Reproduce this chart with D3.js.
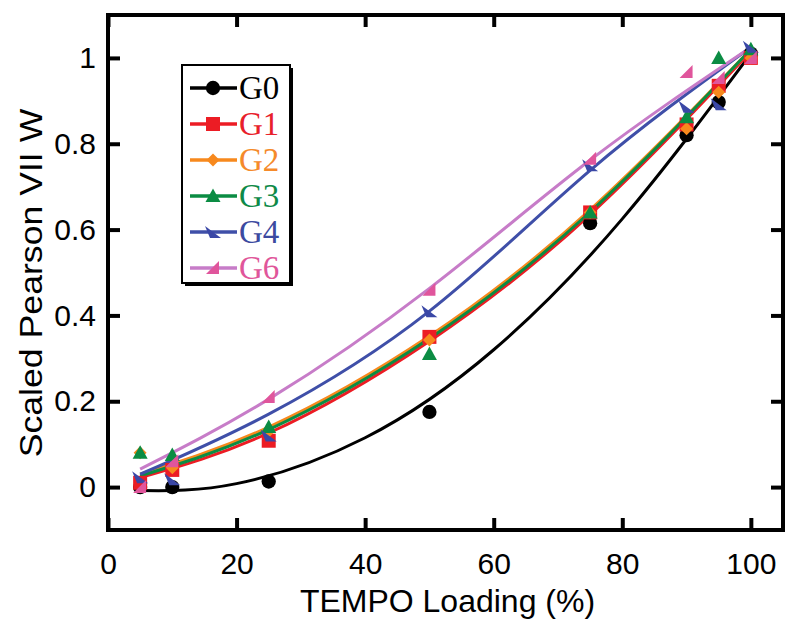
<!DOCTYPE html>
<html><head><meta charset="utf-8">
<script src="https://cdn.jsdelivr.net/npm/d3@7"></script>
<style>body{margin:0;background:#fff}</style>
</head><body>
<svg id="c" width="800" height="629"></svg>
<script>
const loading = [5, 10, 25, 50, 75, 90, 95, 100];
const seriesNames = ["G0", "G1", "G2", "G3", "G4", "G6"];
const G0 = [0.0, 0.0, 0.013, 0.175, 0.615, 0.82, 0.897, 1.01];
const G1 = [0.01, 0.04, 0.108, 0.35, 0.64, 0.845, 0.935, 1.0];
const G2 = [0.08, 0.045, 0.13, 0.343, 0.64, 0.835, 0.92, 1.0];
const G3 = [0.08, 0.075, 0.14, 0.31, 0.64, 0.862, 1.0, 1.02];
const G4 = [0.023, 0.018, 0.12, 0.41, 0.75, 0.886, 0.892, 1.026];
const G6 = [0.0, 0.06, 0.21, 0.46, 0.765, 0.967, 0.953, 1.0];

// fitted curves
const fitX = [5, 20, 40, 60, 80, 100];
const fitG0 = [-0.008, 0.008, 0.115, 0.32, 0.625, 1.01];
const fitX2 = [5, 25, 50, 75, 100];
const fitG1 = [0.022, 0.126, 0.34, 0.635, 1.015];
const fitG2 = [0.03, 0.14, 0.352, 0.646, 1.02];
const fitG3 = [0.026, 0.134, 0.346, 0.641, 1.02];
const fitG4 = [0.03, 0.17, 0.41, 0.738, 1.025];
const fitG6 = [0.042, 0.205, 0.463, 0.762, 1.025];

const xTicks = [0, 20, 40, 60, 80, 100];
const yTicks = [0, 0.2, 0.4, 0.6, 0.8, 1];
const yTickLabels = ["0", "0.2", "0.4", "0.6", "0.8", "1"];

const seriesValues = [G0, G1, G2, G3, G4, G6];
const fitXs = [fitX, fitX2, fitX2, fitX2, fitX2, fitX2];
const fitValues = [fitG0, fitG1, fitG2, fitG3, fitG4, fitG6];
const lineColors = ["#000000", "#ec1c24", "#f7891d", "#0b8c43", "#3f4fa8", "#c77cc8"];
const markColors = ["#000000", "#ec1c24", "#f7891d", "#0b8c43", "#3a47a6", "#e0559c"];
const textColors = ["#000000", "#e8202a", "#f58a2a", "#0e8a48", "#3c4aa0", "#e0569a"];

const svg = d3.select("#c");
const L = 108, R = 783, T = 15, B = 530;
const x = d3.scaleLinear().domain([0, 105]).range([L, R]);
const y = d3.scaleLinear().domain([-0.1, 1.1]).range([B, T]);

const shapes = [
  () => d3.symbol(d3.symbolCircle, 160)(),
  () => "M-7,-7H7V7H-7Z",
  () => "M0,-6.5L6.5,0L0,6.5L-6.5,0Z",
  () => "M0,-7.5L7.5,6L-7.5,6Z",
  () => "M-8,-6L8,6L-3,6Z",
  () => "M6,-7L6,6L-7,6Z"
];

const g = svg.append("g");
fitValues.forEach((vals, i) => {
  const pts = vals.map((v, k) => [fitXs[i][k], v]);
  g.append("path")
    .attr("d", d3.line().curve(d3.curveNatural).x(d => x(d[0])).y(d => y(d[1]))(pts))
    .attr("fill", "none").attr("stroke", lineColors[i]).attr("stroke-width", 3);
});
seriesValues.forEach((vals, i) => {
  g.selectAll(null).data(vals).enter().append("path")
    .attr("transform", (d, k) => `translate(${x(loading[k])},${y(d)})`)
    .attr("d", shapes[i]()).attr("fill", markColors[i]);
});

const tk = 12;
const axB = svg.append("g").attr("transform", `translate(0,${B})`).call(d3.axisBottom(x).tickValues(xTicks).tickSize(-tk).tickPadding(18));
const axT = svg.append("g").attr("transform", `translate(0,${T})`).call(d3.axisTop(x).tickValues(xTicks).tickSize(-tk).tickFormat(""));
const axL = svg.append("g").attr("transform", `translate(${L},0)`).call(d3.axisLeft(y).tickValues(yTicks).tickSize(-tk).tickPadding(12).tickFormat((d,i)=>yTickLabels[i]));
const axR = svg.append("g").attr("transform", `translate(${R},0)`).call(d3.axisRight(y).tickValues(yTicks).tickSize(-tk).tickFormat(""));
[axB, axT, axL, axR].forEach(a => {
  a.select(".domain").remove();
  a.selectAll(".tick line").attr("stroke", "#000").attr("stroke-width", 4);
  a.selectAll(".tick text").attr("font-family", "Liberation Sans, Arial, sans-serif").attr("font-size", 30).attr("fill", "#000");
});
axB.selectAll(".tick text").attr("dy", "0.85em");
svg.append("rect").attr("x", L).attr("y", T).attr("width", R - L).attr("height", B - T)
  .attr("fill", "none").attr("stroke", "#000").attr("stroke-width", 4);

svg.append("text").attr("x", (L + R) / 2 + 2).attr("y", 612).attr("text-anchor", "middle")
  .attr("font-family", "Liberation Sans, Arial, sans-serif").attr("font-size", 32).text("TEMPO Loading (%)");
svg.append("text").attr("transform", `translate(42,283) rotate(-90) scale(1.15,1)`).attr("text-anchor", "middle")
  .attr("font-family", "Liberation Sans, Arial, sans-serif").attr("font-size", 31).text("Scaled Pearson VII W");

const lg = svg.append("g");
lg.append("rect").attr("x", 185).attr("y", 68).attr("width", 108).attr("height", 218).attr("fill", "#000");
lg.append("rect").attr("x", 182).attr("y", 65).attr("width", 108).attr("height", 218).attr("fill", "#fff").attr("stroke", "#000").attr("stroke-width", 2);
seriesNames.forEach((nm, i) => {
  const yy = 88 + i * 36;
  lg.append("line").attr("x1", 190).attr("x2", 237).attr("y1", yy).attr("y2", yy).attr("stroke", lineColors[i]).attr("stroke-width", 3.5);
  lg.append("path").attr("transform", `translate(213,${yy})`).attr("d", shapes[i]()).attr("fill", markColors[i]);
  lg.append("text").attr("x", 239).attr("y", yy + 11).attr("font-family", "Liberation Serif, Times New Roman, serif")
    .attr("font-size", 33).attr("fill", textColors[i]).text(nm);
});
</script>
</body></html>
